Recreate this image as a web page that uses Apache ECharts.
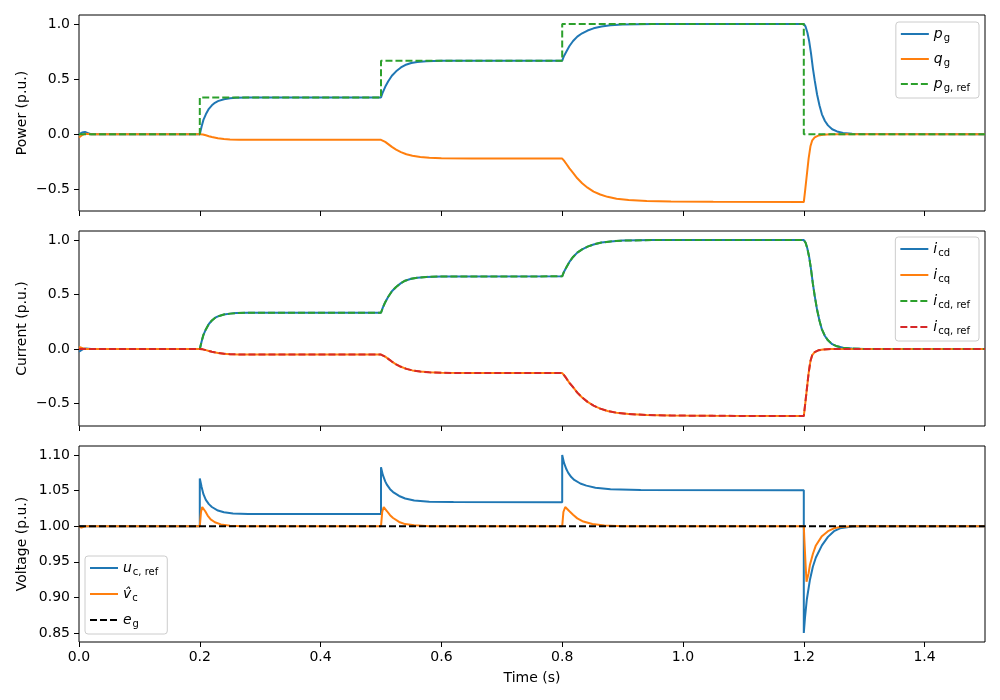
<!DOCTYPE html>
<html><head><meta charset="utf-8">
<script src="https://cdn.jsdelivr.net/npm/echarts@6/dist/echarts.min.js"></script>
<style>html,body{margin:0;padding:0;background:#fff}#c{width:1000px;height:700px}</style>
</head><body><div id="c"></div>
<script>
// ---- tick labels ----
const xTicks = [0, 0.2, 0.4, 0.6, 0.8, 1.0, 1.2, 1.4];
const yTicksPQ = [-0.5, 0, 0.5, 1.0];
const yTicksV = [0.85, 0.90, 0.95, 1.00, 1.05, 1.10];

// ---- panel 1: power (time s, value p.u.) ----
const pg = [[0,0],[0.005,0.015],[0.01,0.02],[0.015,0.01],[0.02,0],[0.2,0],
  [0.203,0.07],[0.206,0.13],[0.21,0.18],[0.215,0.23],[0.22,0.262],[0.225,0.285],[0.23,0.3],[0.24,0.317],[0.25,0.325],[0.26,0.33],[0.28,0.333],[0.5,0.333],
  [0.503,0.38],[0.507,0.43],[0.512,0.48],[0.518,0.53],[0.525,0.57],[0.533,0.605],[0.54,0.627],[0.55,0.645],[0.56,0.655],[0.575,0.662],[0.6,0.666],[0.8,0.667],
  [0.803,0.71],[0.807,0.75],[0.812,0.8],[0.818,0.845],[0.825,0.885],[0.833,0.915],[0.842,0.94],[0.852,0.96],[0.865,0.977],[0.88,0.988],[0.9,0.995],[0.95,1.0],[1.2,1.0],
  [1.203,0.975],[1.206,0.92],[1.209,0.84],[1.212,0.73],[1.215,0.6],[1.218,0.49],[1.222,0.36],[1.226,0.26],[1.23,0.18],[1.235,0.12],[1.24,0.08],[1.247,0.045],[1.255,0.025],[1.265,0.012],[1.28,0.004],[1.3,0.001],[1.5,0]];
const qg = [[0,-0.03],[0.003,-0.015],[0.006,-0.005],[0.01,0.003],[0.02,0],[0.2,0],
  [0.205,-0.003],[0.21,-0.01],[0.215,-0.018],[0.22,-0.025],[0.23,-0.036],[0.24,-0.043],[0.25,-0.047],[0.265,-0.05],[0.3,-0.051],[0.5,-0.051],
  [0.503,-0.056],[0.507,-0.07],[0.512,-0.09],[0.518,-0.115],[0.525,-0.14],[0.533,-0.163],[0.542,-0.182],[0.552,-0.196],[0.565,-0.207],[0.58,-0.214],[0.6,-0.218],[0.65,-0.221],[0.8,-0.221],
  [0.803,-0.24],[0.807,-0.27],[0.812,-0.31],[0.818,-0.35],[0.825,-0.4],[0.833,-0.445],[0.842,-0.485],[0.852,-0.52],[0.863,-0.547],[0.875,-0.568],[0.89,-0.585],[0.91,-0.597],[0.94,-0.605],[0.98,-0.61],[1.05,-0.613],[1.2,-0.615],
  [1.202,-0.52],[1.205,-0.37],[1.208,-0.22],[1.211,-0.11],[1.214,-0.055],[1.218,-0.028],[1.224,-0.012],[1.232,-0.004],[1.245,0],[1.5,0]];
const pgRef = [[0,0],[0.2,0],[0.2,0.3333],[0.5,0.3333],[0.5,0.6667],[0.8,0.6667],[0.8,1.0],[1.2,1.0],[1.2,0],[1.5,0]];

// ---- panel 2: current ----
const icd = [[0,-0.025],[0.004,-0.01],[0.008,0.003],[0.012,0.004],[0.02,0],[0.2,0],
  [0.203,0.07],[0.206,0.13],[0.21,0.18],[0.215,0.23],[0.22,0.262],[0.225,0.285],[0.23,0.3],[0.24,0.317],[0.25,0.325],[0.26,0.33],[0.28,0.333],[0.5,0.333],
  [0.503,0.38],[0.507,0.43],[0.512,0.48],[0.518,0.53],[0.525,0.57],[0.533,0.605],[0.54,0.627],[0.55,0.645],[0.56,0.655],[0.575,0.662],[0.6,0.666],[0.8,0.667],
  [0.803,0.71],[0.807,0.75],[0.812,0.8],[0.818,0.845],[0.825,0.885],[0.833,0.915],[0.842,0.94],[0.852,0.96],[0.865,0.977],[0.88,0.988],[0.9,0.995],[0.95,1.0],[1.2,1.0],
  [1.203,0.975],[1.206,0.92],[1.209,0.84],[1.212,0.73],[1.215,0.6],[1.218,0.49],[1.222,0.36],[1.226,0.26],[1.23,0.18],[1.235,0.12],[1.24,0.08],[1.247,0.045],[1.255,0.025],[1.265,0.012],[1.28,0.004],[1.3,0.001],[1.5,0]];
const icq = [[0,0.02],[0.004,0.012],[0.008,0.004],[0.012,0],[0.02,0],[0.2,0],
  [0.205,-0.003],[0.21,-0.01],[0.215,-0.018],[0.22,-0.025],[0.23,-0.036],[0.24,-0.043],[0.25,-0.047],[0.265,-0.05],[0.3,-0.051],[0.5,-0.051],
  [0.503,-0.056],[0.507,-0.07],[0.512,-0.09],[0.518,-0.115],[0.525,-0.14],[0.533,-0.163],[0.542,-0.182],[0.552,-0.196],[0.565,-0.207],[0.58,-0.214],[0.6,-0.218],[0.65,-0.221],[0.8,-0.221],
  [0.803,-0.24],[0.807,-0.27],[0.812,-0.31],[0.818,-0.35],[0.825,-0.4],[0.833,-0.445],[0.842,-0.485],[0.852,-0.52],[0.863,-0.547],[0.875,-0.568],[0.89,-0.585],[0.91,-0.597],[0.94,-0.605],[0.98,-0.61],[1.05,-0.613],[1.2,-0.615],
  [1.202,-0.52],[1.205,-0.37],[1.208,-0.22],[1.211,-0.11],[1.214,-0.055],[1.218,-0.028],[1.224,-0.012],[1.232,-0.004],[1.245,0],[1.5,0]];
const icdRef = [[0,0],[0.2,0],
  [0.203,0.07],[0.206,0.13],[0.21,0.18],[0.215,0.23],[0.22,0.262],[0.225,0.285],[0.23,0.3],[0.24,0.317],[0.25,0.325],[0.26,0.33],[0.28,0.333],[0.5,0.333],
  [0.503,0.38],[0.507,0.43],[0.512,0.48],[0.518,0.53],[0.525,0.57],[0.533,0.605],[0.54,0.627],[0.55,0.645],[0.56,0.655],[0.575,0.662],[0.6,0.666],[0.8,0.667],
  [0.803,0.71],[0.807,0.75],[0.812,0.8],[0.818,0.845],[0.825,0.885],[0.833,0.915],[0.842,0.94],[0.852,0.96],[0.865,0.977],[0.88,0.988],[0.9,0.995],[0.95,1.0],[1.2,1.0],
  [1.203,0.975],[1.206,0.92],[1.209,0.84],[1.212,0.73],[1.215,0.6],[1.218,0.49],[1.222,0.36],[1.226,0.26],[1.23,0.18],[1.235,0.12],[1.24,0.08],[1.247,0.045],[1.255,0.025],[1.265,0.012],[1.28,0.004],[1.3,0.001],[1.5,0]];
const icqRef = [[0,0],[0.2,0],
  [0.205,-0.003],[0.21,-0.01],[0.215,-0.018],[0.22,-0.025],[0.23,-0.036],[0.24,-0.043],[0.25,-0.047],[0.265,-0.05],[0.3,-0.051],[0.5,-0.051],
  [0.503,-0.056],[0.507,-0.07],[0.512,-0.09],[0.518,-0.115],[0.525,-0.14],[0.533,-0.163],[0.542,-0.182],[0.552,-0.196],[0.565,-0.207],[0.58,-0.214],[0.6,-0.218],[0.65,-0.221],[0.8,-0.221],
  [0.803,-0.24],[0.807,-0.27],[0.812,-0.31],[0.818,-0.35],[0.825,-0.4],[0.833,-0.445],[0.842,-0.485],[0.852,-0.52],[0.863,-0.547],[0.875,-0.568],[0.89,-0.585],[0.91,-0.597],[0.94,-0.605],[0.98,-0.61],[1.05,-0.613],[1.2,-0.615],
  [1.202,-0.52],[1.205,-0.37],[1.208,-0.22],[1.211,-0.11],[1.214,-0.055],[1.218,-0.028],[1.224,-0.012],[1.232,-0.004],[1.245,0],[1.5,0]];

// ---- panel 3: voltage ----
const ucRef = [[0,1.0],[0.2,1.0],[0.2,1.067],[0.203,1.055],[0.206,1.045],[0.21,1.037],[0.215,1.031],[0.22,1.027],[0.23,1.022],[0.24,1.0195],[0.255,1.018],[0.28,1.017],[0.5,1.017],
  [0.5,1.083],[0.503,1.072],[0.507,1.063],[0.51,1.058],[0.515,1.052],[0.52,1.048],[0.53,1.0425],[0.54,1.039],[0.555,1.036],[0.58,1.0345],[0.62,1.034],[0.8,1.0337],
  [0.8,1.1],[0.803,1.089],[0.807,1.08],[0.81,1.075],[0.815,1.069],[0.82,1.065],[0.83,1.06],[0.84,1.057],[0.855,1.054],[0.88,1.052],[0.93,1.051],[1.2,1.0505],
  [1.2,0.85],[1.202,0.872],[1.205,0.897],[1.21,0.924],[1.215,0.943],[1.22,0.956],[1.23,0.973],[1.24,0.985],[1.25,0.993],[1.26,0.997],[1.28,0.9995],[1.3,1.0],[1.5,1.0]];
const vcHat = [[0,1.0],[0.004,0.998],[0.01,1.0],[0.2,1.0],[0.201,1.01],[0.202,1.02],[0.204,1.027],[0.206,1.026],[0.209,1.021],[0.213,1.015],[0.218,1.0095],[0.225,1.0055],[0.235,1.0025],[0.25,1.0007],[0.27,1.0],[0.5,1.0],
  [0.501,1.01],[0.502,1.02],[0.5045,1.027],[0.507,1.025],[0.51,1.021],[0.515,1.0155],[0.52,1.0115],[0.53,1.006],[0.54,1.003],[0.555,1.0012],[0.58,1.0],[0.8,1.0],
  [0.801,1.01],[0.802,1.02],[0.805,1.027],[0.808,1.025],[0.812,1.021],[0.818,1.016],[0.825,1.011],[0.835,1.0065],[0.85,1.003],[0.87,1.001],[0.9,1.0],[1.2,1.0],
  [1.201,0.98],[1.203,0.945],[1.2045,0.922],[1.206,0.924],[1.208,0.934],[1.21,0.945],[1.215,0.961],[1.22,0.973],[1.23,0.986],[1.24,0.993],[1.25,0.997],[1.26,0.999],[1.28,1.0],[1.5,1.0]];
const eg = [[0,1.0],[1.5,1.0]];

const C = {blue:'#1f77b4', orange:'#ff7f0e', green:'#2ca02c', red:'#d62728', black:'#000000'};
const FONT = 'DejaVu Sans';
const FS = 14;

const labelNames = {
  pg: '{i|p}{s|g}',
  qg: '{i|q}{s|g}',
  pgref: '{i|p}{s|g, ref}',
  icd: '{i|i}{s|cd}',
  icq: '{i|i}{s|cq}',
  icdref: '{i|i}{s|cd, ref}',
  icqref: '{i|i}{s|cq, ref}',
  ucref: '{i|u}{s|c, ref}',
  vchat: '{i|v̂}{s|c}',
  eg: '{i|e}{s|g}'
};
const rich = {
  i: {fontFamily: FONT, fontStyle: 'italic', fontSize: FS, color: '#000'},
  s: {fontFamily: FONT, fontSize: 10, color: '#000', padding: [8, 0, 0, 1]}
};

const grids = [
  {left: 79, right: 15, top: 15, height: 196},
  {left: 79, right: 15, top: 231, height: 195},
  {left: 79, right: 15, top: 446, height: 196}
].map(g => Object.assign(g, {show: true, borderColor: '#000', borderWidth: 1, backgroundColor: 'transparent'}));

const fmtMinus = (v, d) => v.toFixed(d).replace('-', '\u2212');

function xAxis(i, showLabel) {
  return {
    type: 'value', gridIndex: i, min: 0, max: 1.5,
    axisLine: {show: false, onZero: false},
    splitLine: {show: false},
    axisTick: {show: true, length: 5, inside: false, customValues: xTicks, lineStyle: {color: '#000', width: 1}},
    axisLabel: {show: showLabel, customValues: xTicks, margin: 8, fontFamily: FONT, fontSize: FS, color: '#000',
      formatter: v => fmtMinus(v, 1)},
    name: showLabel ? 'Time (s)' : '', nameLocation: 'middle', nameGap: 29, nameMoveOverlap: false,
    nameTextStyle: {fontFamily: FONT, fontSize: FS, color: '#000'}
  };
}
function yAxis(i, min, max, ticks, dec, name) {
  return {
    type: 'value', gridIndex: i, min: min, max: max,
    axisLine: {show: false, onZero: false},
    splitLine: {show: false},
    axisTick: {show: true, length: 5, inside: false, customValues: ticks, lineStyle: {color: '#000', width: 1}},
    axisLabel: {customValues: ticks, margin: 9, fontFamily: FONT, fontSize: FS, color: '#000',
      formatter: v => fmtMinus(v, dec)},
    name: name, nameLocation: 'middle', nameGap: 50, nameRotate: 90, nameMoveOverlap: false,
    nameTextStyle: {fontFamily: FONT, fontSize: FS, color: '#000'}
  };
}

function line(name, data, color, idx, dashed) {
  return {
    name: name, type: 'line', data: data, xAxisIndex: idx, yAxisIndex: idx,
    showSymbol: false, symbol: 'none', animation: false, silent: true,
    lineStyle: {color: color, width: 2, type: dashed ? [7, 3] : 'solid'},
    itemStyle: {color: color}
  };
}

function legend(data, pos, gap) {
  return Object.assign({
    data: data, orient: 'vertical', itemWidth: 28, itemHeight: 12, itemGap: gap,
    backgroundColor: '#fff', borderColor: '#cccccc', borderWidth: 1, borderRadius: 3,
    padding: [5, 9, 5, 4],
    itemStyle: {opacity: 0, borderWidth: 0},
    formatter: n => labelNames[n],
    textStyle: {fontFamily: FONT, fontSize: FS, color: '#000', rich: rich},
    selectedMode: false
  }, pos);
}

const option = {
  backgroundColor: '#fff',
  animation: false,
  grid: grids,
  xAxis: [xAxis(0, false), xAxis(1, false), xAxis(2, true)],
  yAxis: [
    yAxis(0, -0.6963, 1.0808, yTicksPQ, 1, 'Power (p.u.)'),
    yAxis(1, -0.7063, 1.0833, yTicksPQ, 1, 'Current (p.u.)'),
    yAxis(2, 0.8373, 1.1127, yTicksV, 2, 'Voltage (p.u.)')
  ],
  legend: [
    legend(['pg', 'qg', 'pgref'], {right: 21, top: 22}, 9),
    legend(['icd', 'icq', 'icdref', 'icqref'], {right: 21, top: 237}, 10),
    legend(['ucref', 'vchat', 'eg'], {left: 85, top: 556}, 10)
  ],
  series: [
    line('pg', pg, C.blue, 0, false),
    line('qg', qg, C.orange, 0, false),
    line('pgref', pgRef, C.green, 0, true),
    line('icd', icd, C.blue, 1, false),
    line('icq', icq, C.orange, 1, false),
    line('icdref', icdRef, C.green, 1, true),
    line('icqref', icqRef, C.red, 1, true),
    line('ucref', ucRef, C.blue, 2, false),
    line('vchat', vcHat, C.orange, 2, false),
    line('eg', eg, C.black, 2, true)
  ]
};
const chart = echarts.init(document.getElementById('c'), null, {renderer: 'canvas'});
chart.setOption(option);
</script></body></html>
